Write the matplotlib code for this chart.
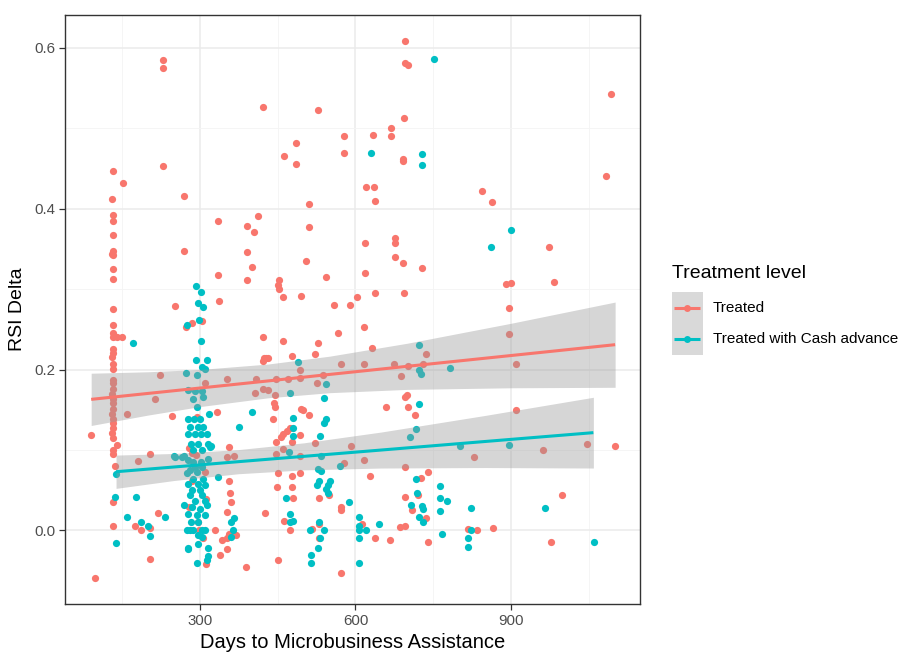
import matplotlib
matplotlib.use("Agg")
import matplotlib.pyplot as plt
from matplotlib.lines import Line2D
from matplotlib.patches import Rectangle
from matplotlib.ticker import MultipleLocator

plt.rcParams['font.family'] = ['Liberation Sans', 'DejaVu Sans']

# ---- datos: días hasta la asistencia vs. delta RSI ----
treated_days = [
    132, 131, 133, 132, 133, 132, 131, 133, 132, 132, 133, 132, 132, 133, 140, 150,
    132, 133, 131, 132, 133, 132, 133, 132, 131, 132, 133, 132, 131, 132, 133, 132,
    131, 132, 140, 132, 133, 136, 132, 132, 152,
    89, 97, 160, 223, 213, 245, 204, 180, 218, 175, 186, 204, 204,
    229, 229, 229, 270, 334, 391, 411, 404, 270, 391, 401, 334, 391, 337, 252,
    273, 285, 304, 332, 310, 294, 285, 292, 355, 366, 310, 355, 284, 358, 352, 279,
    329, 298, 342, 352, 355, 352, 339, 312,
    359, 361, 369, 352, 389, 312, 297, 305, 279, 352,
    696, 696, 701, 422, 527, 694, 669, 669, 634, 577, 485, 577, 463, 485, 692, 692,
    621, 636, 638, 510, 510, 618, 676, 676, 504, 677, 692, 728, 618, 543, 453, 450,
    453, 460, 494, 603, 638, 693, 559, 589,
    1093, 1083, 845, 863, 973, 890, 901, 984, 897,
    897, 910, 910, 828, 962, 1047, 1101, 999, 817, 835, 866, 977,
    617, 566, 422, 460, 527, 521, 477, 632, 423, 428, 422, 431, 737, 408, 447, 469,
    492, 493, 537, 572, 617, 674, 702, 730, 688, 526, 406, 422, 432, 445, 443, 445,
    495, 499, 511, 440, 699, 695, 702, 659, 715, 474, 467, 461, 456, 493, 447, 477,
    460, 521, 591, 447, 493, 617, 577, 450, 477, 493, 628, 695, 739, 727, 448, 477,
    479, 530, 549, 695, 721, 572, 572, 710, 425, 737, 462, 530, 612, 516, 474, 686,
    695, 530, 638, 667, 739, 450, 572,
]
treated_rsi = [
    0.447, 0.412, 0.392, 0.385, 0.368, 0.348, 0.344, 0.342, 0.325, 0.313, 0.275, 0.256, 0.246, 0.240, 0.240, 0.240,
    0.226, 0.221, 0.216, 0.207, 0.201, 0.187, 0.183, 0.176, 0.170, 0.164, 0.158, 0.151, 0.145, 0.139, 0.133, 0.127,
    0.121, 0.115, 0.106, 0.100, 0.095, 0.080, 0.035, 0.006, 0.432,
    0.119, -0.059, 0.145, 0.193, 0.163, 0.142, 0.095, 0.086, 0.022, 0.006, 0.000, 0.003, -0.036,
    0.585, 0.575, 0.453, 0.416, 0.385, 0.378, 0.391, 0.371, 0.348, 0.346, 0.327, 0.318, 0.312, 0.285, 0.279,
    0.253, 0.258, 0.261, 0.147, 0.183, 0.141, 0.096, 0.094, 0.104, 0.093, 0.073, 0.062, 0.062, 0.046, 0.023, 0.029,
    0.001, 0.000, -0.012, -0.010, -0.004, -0.023, -0.031, -0.042,
    0.035, -0.004, -0.006, 0.091, -0.046, 0.039, 0.010, -0.010, 0.102, 0.188,
    0.609, 0.581, 0.579, 0.526, 0.523, 0.513, 0.500, 0.490, 0.492, 0.490, 0.482, 0.470, 0.466, 0.456, 0.462, 0.460,
    0.427, 0.427, 0.410, 0.406, 0.377, 0.357, 0.364, 0.358, 0.335, 0.340, 0.333, 0.326, 0.320, 0.315, 0.312, 0.305,
    0.300, 0.290, 0.291, 0.290, 0.295, 0.295, 0.280, 0.280,
    0.543, 0.441, 0.422, 0.408, 0.353, 0.306, 0.308, 0.309, 0.277,
    0.244, 0.207, 0.150, 0.091, 0.100, 0.107, 0.105, 0.044, 0.002, 0.000, 0.003, -0.014,
    0.253, 0.246, 0.241, 0.235, 0.233, 0.219, 0.217, 0.227, 0.215, 0.214, 0.211, 0.214, 0.219, 0.188, 0.188, 0.188,
    0.200, 0.190, 0.193, 0.207, 0.207, 0.207, 0.205, 0.207, 0.192, 0.183, 0.171, 0.176, 0.175, 0.168, 0.158, 0.154,
    0.151, 0.150, 0.144, 0.138, 0.169, 0.166, 0.154, 0.153, 0.144, 0.127, 0.124, 0.120, 0.116, 0.119, 0.110, 0.110,
    0.101, 0.109, 0.105, 0.095, 0.093, 0.088, 0.084, 0.071, 0.068, 0.071, 0.068, 0.079, 0.073, 0.065, 0.054, 0.054,
    0.040, 0.040, 0.044, 0.041, 0.044, 0.029, 0.025, 0.026, 0.022, 0.015, 0.012, 0.008, 0.008, 0.002, 0.000, 0.004,
    0.005, -0.010, -0.010, -0.012, -0.014, -0.037, -0.053,
]

cash_days = [
    171, 138, 136, 177, 159, 186, 200, 204, 137, 250, 269, 277, 274, 375, 321, 232,
    292, 302, 296, 306, 298, 302, 292, 313, 303, 310, 273, 294, 277, 290, 303, 306,
    287, 294, 318, 277, 289, 300, 281, 296, 306, 277, 290, 302, 313, 283, 297, 316,
    287, 303, 319, 252, 265, 277, 287, 302, 316, 290, 303, 281, 294, 334, 274, 287,
    306, 296, 277, 310, 284, 300, 281, 303, 290, 310, 270, 284, 300, 313, 277, 294,
    310, 283, 297, 274, 281, 287, 303, 310, 297, 303, 277, 296, 315, 316, 313, 294,
    366, 359, 363, 359,
    751, 629, 728, 728, 900, 861,
    783, 802, 897, 763, 763, 777, 763, 823, 966, 823, 817, 817, 766, 1060,
    490, 543, 723, 723, 726, 474, 540, 400, 723, 480, 543, 540, 479, 479, 532, 717,
    705, 472, 533, 570, 528, 533, 717, 551, 547, 530, 525, 544, 547, 466, 718, 588,
    708, 728, 731, 474, 479, 474, 607, 646, 723, 730, 512, 530, 540, 607, 607, 620,
    607, 532, 528, 514, 514, 607,
]
cash_rsi = [
    0.233, 0.070, 0.042, 0.041, 0.017, 0.010, 0.006, -0.007, -0.016, 0.093, 0.092, -0.023, 0.255, 0.129, 0.105, 0.017,
    0.304, 0.297, 0.283, 0.278, 0.262, 0.236, 0.212, 0.212, 0.203, 0.201, 0.196, 0.193, 0.175, 0.174, 0.174, 0.166,
    0.164, 0.153, 0.145, 0.139, 0.139, 0.139, 0.129, 0.129, 0.129, 0.120, 0.120, 0.120, 0.120, 0.108, 0.108, 0.108,
    0.100, 0.100, 0.104, 0.091, 0.091, 0.087, 0.085, 0.085, 0.089, 0.079, 0.079, 0.075, 0.073, 0.066, 0.071, 0.064,
    0.064, 0.058, 0.058, 0.056, 0.050, 0.050, 0.044, 0.044, 0.037, 0.037, 0.031, 0.029, 0.027, 0.031, 0.021, 0.019,
    0.019, 0.010, 0.010, 0.001, 0.001, 0.001, 0.001, 0.001, -0.006, -0.008, -0.022, -0.017, -0.022, -0.032, -0.037, -0.041,
    0.015, 0.010, 0.000, -0.008,
    0.586, 0.470, 0.468, 0.455, 0.374, 0.353,
    0.202, 0.105, 0.106, 0.055, 0.040, 0.036, 0.024, 0.028, 0.028, 0.000, -0.009, -0.020, -0.004, -0.015,
    0.210, 0.182, 0.230, 0.199, 0.195, 0.171, 0.165, 0.147, 0.157, 0.140, 0.139, 0.134, 0.128, 0.117, 0.117, 0.126,
    0.116, 0.097, 0.092, 0.080, 0.077, 0.074, 0.064, 0.062, 0.057, 0.061, 0.056, 0.051, 0.046, 0.040, 0.047, 0.035,
    0.032, 0.030, 0.027, 0.021, 0.012, 0.011, 0.017, 0.008, 0.017, 0.010, 0.001, 0.010, 0.000, 0.005, 0.000, 0.001,
    -0.009, -0.010, -0.022, -0.030, -0.041, -0.040,
]

# ajuste lineal (lm) con banda de confianza 95%
treated_fit_x = [90, 200, 300, 431, 550, 700, 900, 1101]
treated_fit = [0.1630, 0.1704, 0.1771, 0.1859, 0.1940, 0.2041, 0.2175, 0.2310]
treated_lo = [0.1305, 0.1435, 0.1540, 0.1649, 0.1713, 0.1754, 0.1774, 0.1780]
treated_hi = [0.1955, 0.1973, 0.2002, 0.2069, 0.2167, 0.2328, 0.2576, 0.2840]

cash_fit_x = [138, 250, 374, 500, 650, 850, 1059]
cash_fit = [0.0730, 0.0789, 0.0855, 0.0921, 0.1000, 0.1106, 0.1216]
cash_lo = [0.0523, 0.0621, 0.0705, 0.0753, 0.0776, 0.0782, 0.0776]
cash_hi = [0.0937, 0.0957, 0.1005, 0.1089, 0.1224, 0.1430, 0.1656]

groups = ['Treated', 'Treated with Cash advance']
RED = '#F8766D'
CYAN = '#00BFC4'

W, H = 904, 653
fig = plt.figure(figsize=(W / 100, H / 100), dpi=100)
ax = fig.add_axes([65 / W, 1 - 604 / H, 575 / W, 589 / H])

ax.scatter(treated_days, treated_rsi, s=27, color=RED, linewidths=0, zorder=3)
ax.scatter(cash_days, cash_rsi, s=27, color=CYAN, linewidths=0, zorder=3)

# bandas de confianza encima de los puntos (como geom_smooth)
ax.fill_between(treated_fit_x, treated_lo, treated_hi, color='#999999', alpha=0.4, linewidth=0, zorder=4)
ax.fill_between(cash_fit_x, cash_lo, cash_hi, color='#999999', alpha=0.4, linewidth=0, zorder=4)
ax.plot(treated_fit_x, treated_fit, color=RED, linewidth=2.2, zorder=5, solid_capstyle='butt')
ax.plot(cash_fit_x, cash_fit, color=CYAN, linewidth=2.2, zorder=5, solid_capstyle='butt')

ax.set_xlim(39.5, 1149)
ax.set_ylim(-0.0915, 0.641)
ax.xaxis.set_major_locator(MultipleLocator(300))
ax.xaxis.set_minor_locator(MultipleLocator(150))
ax.yaxis.set_major_locator(MultipleLocator(0.2))
ax.yaxis.set_minor_locator(MultipleLocator(0.1))
ax.yaxis.set_major_formatter(plt.FuncFormatter(lambda v, p: f'{v:.1f}'))

ax.grid(True, which='major', color='#EBEBEB', linewidth=1.1, zorder=0)
ax.grid(True, which='minor', color='#F4F4F4', linewidth=0.6, zorder=0)
ax.set_axisbelow(True)
for sp in ax.spines.values():
    sp.set_color('#333333')
    sp.set_linewidth(1.0)
ax.tick_params(which='major', length=4, width=0.9, color='#333333',
               labelsize=10.8, labelcolor='#4D4D4D', pad=3)
ax.tick_params(which='minor', length=0)

ax.set_xlabel('Days to Microbusiness Assistance', fontsize=14.5, labelpad=4)
ax.set_ylabel('RSI Delta', fontsize=14, labelpad=6)

# leyenda estilo ggplot, dibujada a mano en coordenadas de figura (px)
def fx(px):
    return px / W

def fy(py):
    return 1 - py / H

fig.text(fx(672), fy(273), 'Treatment level', fontsize=14, va='center', ha='left')
fig.add_artist(Rectangle((fx(672), fy(355)), fx(703) - fx(672), fy(292) - fy(355),
                         transform=fig.transFigure, facecolor='#D9D9D9', edgecolor='none'))
for i, (name, col) in enumerate(zip(groups, [RED, CYAN])):
    yc = fy(308 + 31 * i)
    fig.add_artist(Line2D([fx(674), fx(700)], [yc, yc], transform=fig.transFigure,
                          color=col, linewidth=2.2, solid_capstyle='butt'))
    fig.add_artist(Line2D([fx(687)], [yc], transform=fig.transFigure, color=col,
                          marker='o', markersize=5, markeredgewidth=0))
    fig.text(fx(713), yc, name, fontsize=11, va='center', ha='left')

fig.savefig('out.png', dpi=100)
